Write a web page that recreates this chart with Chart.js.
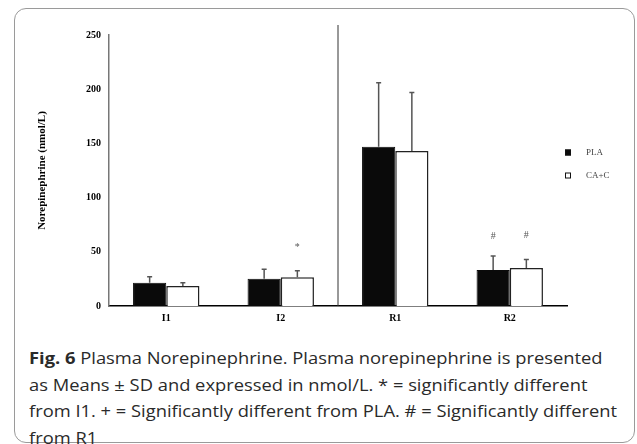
<!DOCTYPE html>
<html lang="en">
<head>
  <meta charset="UTF-8">
  <title>Plasma Norepinephrine</title>
  <script src="https://cdn.jsdelivr.net/npm/chart.js"></script>
  <style>
    body {
      margin: 0;
      background: white;
      width: 637px;
      height: 444px;
      overflow: hidden;
      position: relative;
    }
    .frame {
      position: absolute;
      left: 14px;
      top: 8px;
      width: 619px;
      height: 433px;
      border: 1.5px solid #9a9a9a;
      border-radius: 12px;
    }
    #chart {
      position: absolute;
      left: 0;
      top: 0;
    }
    .caption {
      position: absolute;
      left: 29px;
      top: 345px;
      font-family: "Open Sans", sans-serif;
      font-size: 16.5px;
      line-height: 26.5px;
      color: #2a2a2a;
      white-space: nowrap;
      transform-origin: left top;
    }
    .caption span { display: block; }
    .caption b { font-weight: 700; }
  </style>
</head>
<body>
  <div class="frame"></div>
  <canvas id="chart" width="637" height="335"></canvas>
  <div class="caption" id="caption">
    <span id="line1"><b>Fig. 6</b> Plasma Norepinephrine. Plasma norepinephrine is presented</span>
    <span>as Means ± SD and expressed in nmol/L. * = significantly different</span>
    <span>from I1. + = Significantly different from PLA. # = Significantly different</span>
    <span>from R1</span>
  </div>

  <script type="text/javascript">
    const categories = ['I1', 'I2', 'R1', 'R2'];
    const seriesNames = ['PLA', 'CA+C'];
    const plaMeans = [21.5, 25.2, 147, 33.2];
    const plaSD = [5.5, 8.6, 59, 13];
    const cacMeans = [18.5, 26.5, 143, 35];
    const cacSD = [3, 6, 54, 8];
    const yTicks = [0, 50, 100, 150, 200, 250];
    // significance marks: category index, dataset index, symbol, height (nmol/L)
    const markCats = [1, 3, 3];
    const markSets = [1, 0, 1];
    const markText = ['*', '#', '#'];
    const markY = [54.5, 64, 65.5];

    const sdByDataset = [plaSD, cacSD];

    // the figure text is a little stretched sideways, match line 1 width
    const line1 = document.getElementById('line1');
    const w = line1.getBoundingClientRect().width;
    document.getElementById('caption').style.transform = 'scaleX(' + (588 / w) + ')';

    const errorBars = {
      id: 'errorBars',
      afterDatasetsDraw(chart) {
        const ctx = chart.ctx;
        const y = chart.scales.y;
        ctx.save();
        ctx.strokeStyle = '#555';
        ctx.lineWidth = 1.5;
        chart.data.datasets.forEach((ds, di) => {
          const meta = chart.getDatasetMeta(di);
          meta.data.forEach((bar, i) => {
            const top = y.getPixelForValue(ds.data[i] + sdByDataset[di][i]);
            ctx.beginPath();
            ctx.moveTo(bar.x, bar.y);
            ctx.lineTo(bar.x, top);
            ctx.moveTo(bar.x - 2.5, top);
            ctx.lineTo(bar.x + 2.5, top);
            ctx.stroke();
          });
        });
        // significance symbols
        ctx.fillStyle = '#555';
        ctx.font = '10px "Liberation Serif", serif';
        ctx.textAlign = 'center';
        ctx.textBaseline = 'middle';
        markCats.forEach((c, k) => {
          const bar = chart.getDatasetMeta(markSets[k]).data[c];
          ctx.fillText(markText[k], bar.x, y.getPixelForValue(markY[k]));
        });
        // divider between I2 and R1
        const x = chart.scales.x;
        const dx = (x.getPixelForValue(1) + x.getPixelForValue(2)) / 2;
        ctx.strokeStyle = '#333';
        ctx.lineWidth = 1;
        ctx.beginPath();
        ctx.moveTo(dx, chart.chartArea.top - 10);
        ctx.lineTo(dx, chart.chartArea.bottom);
        ctx.stroke();
        ctx.restore();
      }
    };

    const sideLegend = {
      id: 'sideLegend',
      afterDraw(chart) {
        const ctx = chart.ctx;
        ctx.save();
        ctx.font = '9px "Liberation Serif", serif';
        ctx.textBaseline = 'middle';
        ctx.textAlign = 'left';
        chart.data.datasets.forEach((ds, i) => {
          const cy = 152.5 + i * 23;
          ctx.fillStyle = ds.backgroundColor;
          ctx.fillRect(565, cy - 3, 6, 6);
          ctx.strokeStyle = '#111';
          ctx.lineWidth = 1;
          ctx.strokeRect(565.5, cy - 2.5, 5, 5);
          ctx.fillStyle = '#444';
          ctx.fillText(ds.label, 586, cy);
        });
        ctx.restore();
      }
    };

    new Chart(document.getElementById('chart').getContext('2d'), {
      type: 'bar',
      data: {
        labels: categories,
        datasets: [{
          label: seriesNames[0],
          data: plaMeans,
          backgroundColor: '#0a0a0a',
          borderColor: '#0a0a0a',
          borderWidth: 1
        }, {
          label: seriesNames[1],
          data: cacMeans,
          backgroundColor: '#ffffff',
          borderColor: '#222',
          borderWidth: 1.5
        }]
      },
      options: {
        responsive: false,
        animation: false,
        layout: { padding: { left: 0, top: 35, right: 70, bottom: 5 } },
        plugins: {
          legend: { display: false },
          tooltip: { enabled: false }
        },
        datasets: {
          bar: { categoryPercentage: 0.58, barPercentage: 1 }
        },
        scales: {
          x: {
            grid: { display: false, drawTicks: false },
            border: { color: '#000', width: 1.5 },
            ticks: {
              padding: 6,
              color: '#000',
              font: { family: '"Liberation Serif", serif', size: 10, weight: 'bold' }
            },
            afterFit: s => { s.height = 24; }
          },
          y: {
            min: 0,
            max: 250,
            grid: { display: false, drawTicks: false },
            border: { color: '#777', width: 1.5 },
            afterBuildTicks: s => { s.ticks = yTicks.map(v => ({ value: v })); },
            ticks: {
              padding: 8,
              color: '#000',
              font: { family: '"Liberation Serif", serif', size: 10, weight: 'bold' }
            },
            title: {
              display: true,
              text: 'Norepinephrine (nmol/L)',
              color: '#000',
              padding: { top: 36, bottom: 0 },
              font: { family: '"Liberation Serif", serif', size: 11, weight: 'bold' }
            },
            afterFit: s => { s.width = 109; }
          }
        }
      },
      plugins: [errorBars, sideLegend]
    });
  </script>
</body>
</html>
